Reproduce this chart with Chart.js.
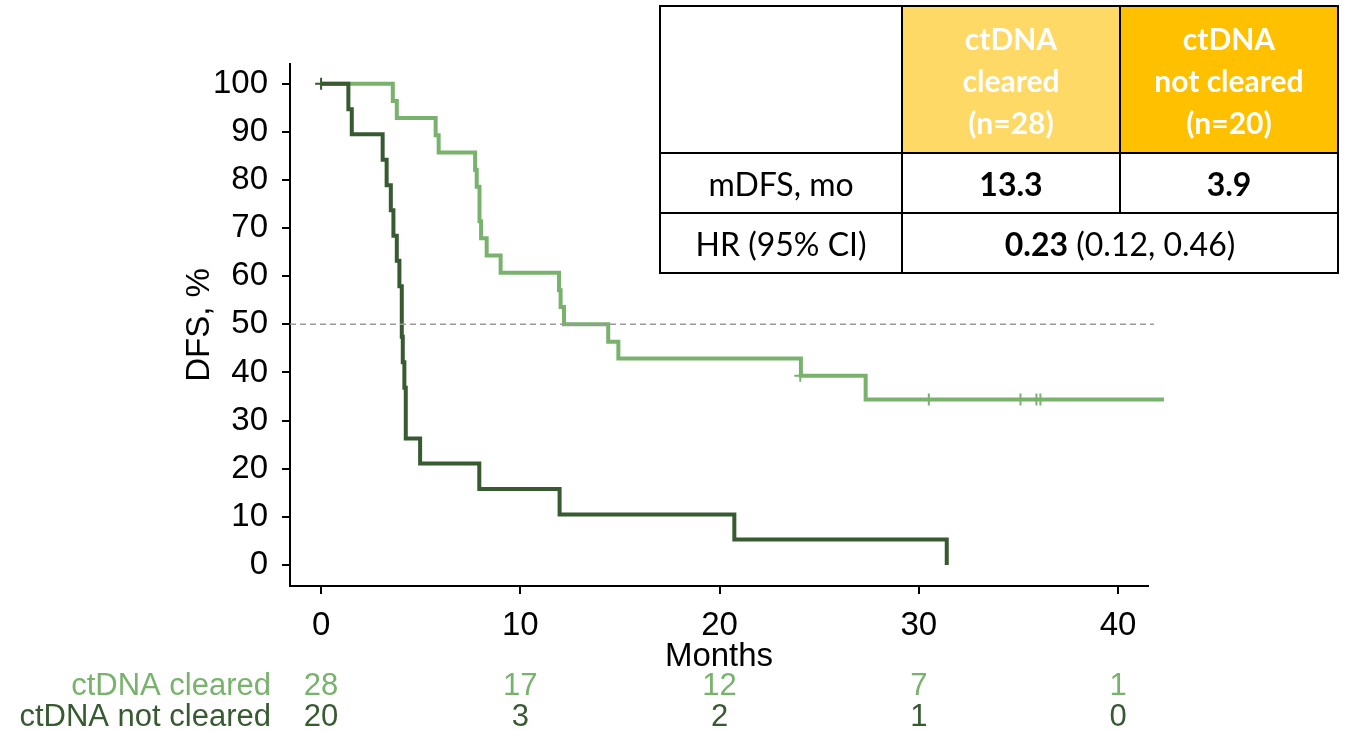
<!DOCTYPE html>
<html>
<head>
<meta charset="utf-8">
<script src="https://cdn.jsdelivr.net/npm/chart.js@4.4.1/dist/chart.umd.min.js"></script>
<style>
  body { margin: 0; background: #fff; }
  #wrap { position: relative; width: 1346px; height: 731px; }
  #km { position: absolute; left: 0; top: 0; }
  #stats {
    position: absolute; left: 659px; top: 5px; width: 678px;
    border-collapse: collapse; table-layout: fixed;
    font-family: Lato, "Open Sans", sans-serif; font-size: 32px; color: #000;
  }
  #stats td { border: 2.5px solid #000; text-align: center; vertical-align: middle; padding: 0; }
  #stats tr.head td { height: 145px; line-height: 42px; color: #fff; font-weight: bold; font-size: 30px; }
  #stats tr.row td { height: 58px; }
</style>
</head>
<body>
<div id="wrap">
  <canvas id="km" width="1346" height="731"></canvas>
  <table id="stats"></table>
</div>
<script>
// KM curves (months, DFS %)
const clearedTime = [0, 3.6, 3.8, 5.75, 5.9, 7.73, 7.81, 7.95, 8.03, 8.31, 9.01, 11.94, 12.02, 12.19, 14.41, 14.92, 24.08, 27.33, 42.3];
const clearedDfs  = [100, 96.4, 92.9, 89.3, 85.7, 82.1, 78.6, 71.4, 67.9, 64.3, 60.7, 57.1, 53.6, 50.0, 46.4, 42.9, 39.3, 34.4, 34.4];
const notClearedTime = [0, 1.37, 1.54, 3.09, 3.29, 3.5, 3.63, 3.8, 3.93, 4.05, 4.1, 4.18, 4.25, 4.97, 7.94, 11.97, 20.74, 31.4];
const notClearedDfs  = [100, 94.7, 89.5, 84.2, 78.9, 73.7, 68.4, 63.2, 57.9, 47.4, 42.1, 36.8, 26.3, 21.1, 15.8, 10.5, 5.3, 0];

// censored observations
const clearedCensorTime = [24.05, 30.5, 35.1, 35.9, 36.1, 42.0];
const clearedCensorDfs  = [39.3, 34.4, 34.4, 34.4, 34.4, 34.4];
const notClearedCensorTime = [0];
const notClearedCensorDfs  = [100];

// numbers at risk
const riskMonths = [0, 10, 20, 30, 40];
const riskCleared = [28, 17, 12, 7, 1];
const riskNotCleared = [20, 3, 2, 1, 0];

const xTicks = [0, 10, 20, 30, 40];
const yTicks = [0, 10, 20, 30, 40, 50, 60, 70, 80, 90, 100];
const medianLine = 50;

// summary table
const groupHeads = [['ctDNA', 'cleared', '(n=28)'], ['ctDNA', 'not cleared', '(n=20)']];
const mdfs = ['13.3', '3.9'];
const hr = ['0.23', '(0.12, 0.46)'];

const LIGHT = '#78b26c';
const DARK = '#375a31';
const FONT = '"Liberation Sans", Arial, sans-serif';

function pts(xs, ys) { return xs.map((x, i) => ({ x: x, y: ys[i] })); }

const X_MIN = -1.56, X_MAX = 41.5;

const atRisk = {
  id: 'atRisk',
  afterDraw(chart) {
    const ctx = chart.ctx;
    const xs = chart.scales.x;
    ctx.save();
    ctx.font = '31px ' + FONT;
    ctx.textBaseline = 'middle';
    const rows = [
      { label: 'ctDNA cleared', vals: riskCleared, color: LIGHT, y: 686 },
      { label: 'ctDNA not cleared', vals: riskNotCleared, color: DARK, y: 717 }
    ];
    rows.forEach(r => {
      ctx.fillStyle = r.color;
      ctx.textAlign = 'right';
      ctx.fillText(r.label, 271, r.y);
      ctx.textAlign = 'center';
      r.vals.forEach((v, i) => ctx.fillText(String(v), xs.getPixelForValue(riskMonths[i]), r.y));
    });
    ctx.restore();
  }
};

new Chart(document.getElementById('km'), {
  type: 'line',
  data: {
    datasets: [
      { // 50% reference
        data: [{ x: X_MIN, y: medianLine }, { x: 41.8, y: medianLine }],
        borderColor: '#9a9a9a', borderWidth: 1.5, borderDash: [6, 4],
        pointRadius: 0, clip: false
      },
      {
        data: pts(notClearedCensorTime, notClearedCensorDfs),
        showLine: false, pointStyle: 'cross', pointRadius: 6,
        pointBorderColor: DARK, pointBorderWidth: 2, clip: false
      },
      {
        data: pts(notClearedTime, notClearedDfs),
        stepped: true, borderColor: DARK, borderWidth: 4, pointRadius: 0, clip: false
      },
      {
        data: pts(clearedCensorTime, clearedCensorDfs),
        showLine: false, pointStyle: 'cross', pointRadius: 6,
        pointBorderColor: LIGHT, pointBorderWidth: 2, clip: false
      },
      {
        data: pts(clearedTime, clearedDfs),
        stepped: true, borderColor: LIGHT, borderWidth: 4, pointRadius: 0, clip: false
      }
    ]
  },
  options: {
    responsive: false,
    animation: false,
    devicePixelRatio: 1,
    layout: { padding: { left: 176, top: 64, right: 198, bottom: 50 } },
    plugins: { legend: { display: false }, tooltip: { enabled: false } },
    scales: {
      x: {
        type: 'linear', min: X_MIN, max: X_MAX,
        afterBuildTicks: s => { s.ticks = xTicks.map(v => ({ value: v })); },
        afterFit: s => { s.height = 95; },
        ticks: { color: '#000', font: { family: FONT, size: 33 }, padding: 12, maxRotation: 0 },
        grid: { drawOnChartArea: false, tickLength: 8, color: '#000', lineWidth: 2 },
        border: { color: '#000', width: 2 },
        title: { display: true, text: 'Months', color: '#000', font: { family: FONT, size: 33 }, padding: 4 }
      },
      y: {
        type: 'linear', min: -4.37, max: 104.1,
        afterBuildTicks: s => { s.ticks = yTicks.map(v => ({ value: v })); },
        afterFit: s => { s.width = 114; },
        ticks: { color: '#000', font: { family: FONT, size: 33 }, padding: 14 },
        grid: { drawOnChartArea: false, tickLength: 8, color: '#000', lineWidth: 2 },
        border: { color: '#000', width: 2 },
        title: { display: true, text: 'DFS, %', color: '#000', font: { family: FONT, size: 33 }, padding: 4 }
      }
    }
  },
  plugins: [atRisk]
});

// build the summary table
const tbl = document.getElementById('stats');
tbl.innerHTML =
  '<colgroup><col style="width:242px"><col style="width:218px"><col style="width:218px"></colgroup>' +
  '<tr class="head"><td></td>' +
  '<td style="background:#ffd966">' + groupHeads[0].join('<br>') + '</td>' +
  '<td style="background:#ffc000">' + groupHeads[1].join('<br>') + '</td></tr>' +
  '<tr class="row"><td>mDFS, mo</td><td><b>' + mdfs[0] + '</b></td><td><b>' + mdfs[1] + '</b></td></tr>' +
  '<tr class="row"><td>HR (95% CI)</td><td colspan="2"><b>' + hr[0] + '</b> ' + hr[1] + '</td></tr>';
</script>
</body>
</html>
